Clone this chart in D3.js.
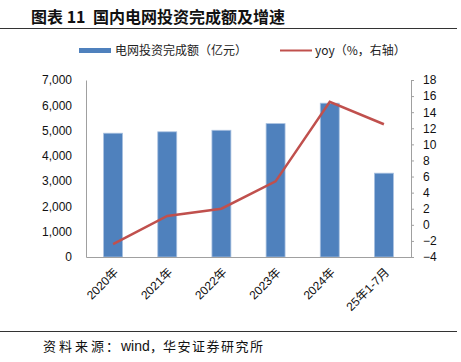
<!DOCTYPE html>
<html>
<head>
<meta charset="utf-8">
<script src="https://cdn.jsdelivr.net/npm/d3@7"></script>
<style>
  body { margin: 0; background: #fff; }
  svg { display: block; }
</style>
</head>
<body>
<div class="chart"></div>
<script>
const categories = ['2020年', '2021年', '2022年', '2023年', '2024年', '25年1-7月'];
const investment = [4896, 4951, 5012, 5275, 6083, 3315];   // 亿元
const yoy = [-2.4, 1.1, 2.0, 5.4, 15.3, 12.5];           // %
const leftTicks = [0, 1000, 2000, 3000, 4000, 5000, 6000, 7000];
const rightTicks = [-4, -2, 0, 2, 4, 6, 8, 10, 12, 14, 16, 18];

const width = 461;
const height = 362;
const margin = { top: 80, bottom: 105, left: 86, right: 50 };
const cjk = '"Noto Sans CJK SC", sans-serif';
const latin = '"Liberation Sans", Arial, sans-serif';

const svg = d3.select('.chart')
    .append('svg')
    .attr('width', width)
    .attr('height', height);

const xScale = d3.scaleBand()
    .domain(categories)
    .range([margin.left, width - margin.right])
    .paddingInner(0.65)
    .paddingOuter(0.325);

const yLeft = d3.scaleLinear()
    .domain([0, 7000])
    .range([height - margin.bottom, margin.top]);

const yRight = d3.scaleLinear()
    .domain([-4, 18])
    .range([height - margin.bottom, margin.top]);

// title + rules
const title = svg.append('text')
    .attr('y', 23)
    .style('font-family', cjk)
    .style('font-weight', 'bold')
    .style('font-size', '16px')
    .attr('fill', '#111');
title.append('tspan').attr('x', 31).text('图表 11');
title.append('tspan').attr('x', 93).text('国内电网投资完成额及增速');

svg.append('line')
    .attr('x1', 0).attr('x2', 457)
    .attr('y1', 28.5).attr('y2', 28.5)
    .attr('stroke', '#333').attr('stroke-width', 1);

svg.append('line')
    .attr('x1', 0).attr('x2', 457)
    .attr('y1', 331.5).attr('y2', 331.5)
    .attr('stroke', '#333').attr('stroke-width', 1);

// source line, pieces placed to match the original spacing
const sourceParts = [
    { x: 43, text: '资料来源', spacing: 3 },
    { x: 106, text: '：', spacing: 0 },
    { x: 121, text: 'wind', spacing: 0, latin: true },
    { x: 150, text: '，', spacing: 0 },
    { x: 163, text: '华安证券研究所', spacing: 1.5 }
];
svg.selectAll('.source')
    .data(sourceParts)
    .enter()
    .append('text')
    .attr('class', 'source')
    .attr('x', d => d.x)
    .attr('y', 351)
    .style('font-family', d => d.latin ? latin : cjk)
    .style('font-size', d => d.latin ? '14px' : '13px')
    .style('letter-spacing', d => d.spacing + 'px')
    .attr('fill', '#111')
    .text(d => d.text);

// legend
svg.append('rect')
    .attr('x', 79).attr('y', 48)
    .attr('width', 32).attr('height', 5)
    .attr('fill', '#4F81BD');
svg.append('text')
    .attr('x', 115).attr('y', 55)
    .style('font-family', cjk)
    .style('font-size', '12px')
    .attr('fill', '#222')
    .text('电网投资完成额（亿元）');
svg.append('line')
    .attr('x1', 280).attr('x2', 312)
    .attr('y1', 50.5).attr('y2', 50.5)
    .attr('stroke', '#C0504D').attr('stroke-width', 2);
svg.append('text')
    .attr('x', 315).attr('y', 55)
    .style('font-family', cjk)
    .style('font-size', '12px')
    .attr('fill', '#222')
    .text('yoy（%，右轴）');

// bars
svg.selectAll('.bar')
    .data(investment)
    .enter()
    .append('rect')
    .attr('class', 'bar')
    .attr('x', (d, i) => xScale(categories[i]))
    .attr('y', d => yLeft(d))
    .attr('width', xScale.bandwidth())
    .attr('height', d => yLeft(0) - yLeft(d))
    .attr('fill', '#4F81BD')
    .attr('stroke', '#a9c1e0')
    .attr('stroke-width', 0.8);

// axes
const leftAxis = svg.append('g')
    .attr('transform', `translate(${margin.left},0)`)
    .call(d3.axisLeft(yLeft).tickValues(leftTicks).tickSize(0).tickPadding(14)
        .tickFormat(d3.format(',')));

const rightAxis = svg.append('g')
    .attr('transform', `translate(${width - margin.right},0)`)
    .call(d3.axisRight(yRight).tickValues(rightTicks).tickSize(3).tickPadding(9));

const bottomAxis = svg.append('g')
    .attr('transform', `translate(0,${height - margin.bottom})`)
    .call(d3.axisBottom(xScale).tickSize(0).tickSizeOuter(0));

[leftAxis, rightAxis, bottomAxis].forEach(g => {
    g.select('.domain').attr('stroke', '#a0a0a0');
    g.selectAll('.tick line').attr('stroke', '#a0a0a0');
    g.selectAll('text')
        .style('font-family', latin)
        .style('font-size', '12px')
        .attr('fill', '#111');
});

rightAxis.selectAll('text').attr('text-anchor', 'start');

bottomAxis.selectAll('text')
    .style('font-family', '"Liberation Sans", "Noto Sans CJK SC", sans-serif')
    .attr('text-anchor', 'end')
    .attr('dy', 0)
    .attr('y', 0)
    .attr('transform', 'translate(6,16) rotate(-45)');

// yoy line
const line = d3.line()
    .x((d, i) => xScale(categories[i]) + xScale.bandwidth() / 2)
    .y(d => yRight(d));

svg.append('path')
    .datum(yoy)
    .attr('d', line)
    .attr('fill', 'none')
    .attr('stroke', '#C0504D')
    .attr('stroke-width', 2.5);
</script>
</body>
</html>
